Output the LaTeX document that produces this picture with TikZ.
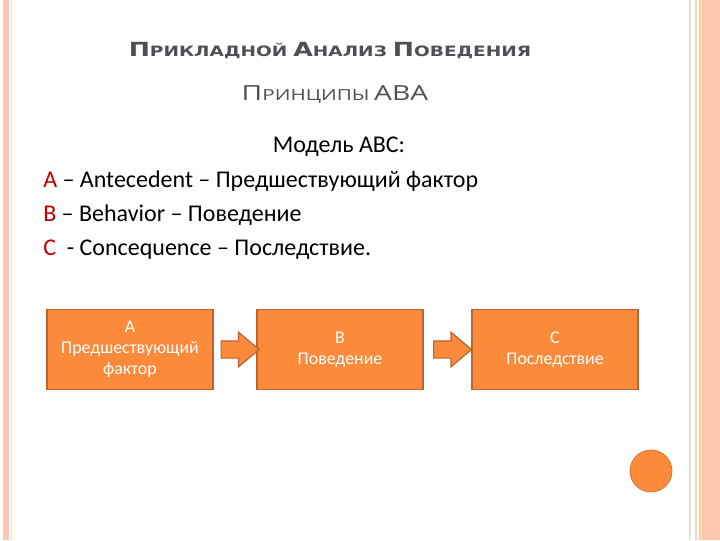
\documentclass[tikz,border=0pt]{standalone}
\usepackage{fontspec}
\setmainfont{Carlito}
\newfontfamily\headfont{DejaVu Sans}
\newfontfamily\subfont{Open Sans}
\usetikzlibrary{shapes.arrows,calc}
\definecolor{ochre}{HTML}{FB8A3A}
\definecolor{ochredark}{HTML}{B8652E}
\definecolor{peach}{HTML}{FFC6B0}
\definecolor{slate}{HTML}{4E5055}
\definecolor{abcred}{HTML}{C00000}
\newcommand{\hcap}[1]{{\fontsize{14.6pt}{17pt}\selectfont #1}}
\newcommand{\hsc}[1]{{\fontsize{10.7pt}{13pt}\selectfont #1}}
\newcommand{\scap}[1]{{\fontsize{15.6pt}{18pt}\selectfont #1}}
\newcommand{\ssc}[1]{{\fontsize{11.4pt}{14pt}\selectfont #1}}

\begin{document}
\begin{tikzpicture}[x=0.75pt,y=-0.75pt,stage/.style={draw=ochredark,line width=1.2pt,fill=ochre,text=white,minimum width=124.5pt,minimum height=60pt,align=center,font=\fontsize{13.4pt}{15.8pt}\selectfont},blockarrow/.style={single arrow,draw=ochredark,line width=0.9pt,fill=ochre,minimum height=28.5pt,inner xsep=0pt,inner ysep=6pt,single arrow head extend=6.5pt,single arrow tip angle=80},body/.style={font=\fontsize{18pt}{21pt}\selectfont,anchor=base west,inner sep=0pt},stripe/.style={line width=#1}]
\useasboundingbox (0,0) rectangle (720,540); \fill[white] (0,0) rectangle (720,540);
% side stripes
\fill[peach] (3,0) rectangle (9,540); \draw[stripe=0.75pt,color=red!15] (11.5,0)--(11.5,540); \draw[stripe=0.75pt,color=yellow!15] (14.5,0)--(14.5,540);
\draw[stripe=1.5pt,color=brown!25] (690,0)--(690,540); \draw[stripe=1.5pt,color=peach!80] (696,0)--(696,540); \draw[stripe=1.5pt,color=peach] (700,0)--(700,540);
\draw[stripe=1.2pt,color=orange!45] (702.5,0)--(702.5,540); \fill[peach] (703,0) rectangle (720,540);
\node[draw=ochre!85!black,line width=0.6pt,fill=ochre,circle,minimum size=31.5pt] (dot) at (651,471) {};
% headings
\node[anchor=base,text=slate,inner sep=0pt] (title) at (330,56) {\scalebox{1.3}[1]{\headfont\bfseries\hcap{П}\hsc{РИКЛАДНОЙ} \hcap{А}\hsc{НАЛИЗ} \hcap{П}\hsc{ОВЕДЕНИЯ}}};
\node[anchor=base,text=slate,inner sep=0pt] (subtitle) at (335,100) {\scalebox{1.36}[1]{\subfont\scap{П}\ssc{РИНЦИПЫ} \scap{АВА}}};
\node[body,anchor=base] (model) at (339,152) {Модель АВС:};
\node[body] (lineA) at (43,187) {\textcolor{abcred}{A} – Antecedent – Предшествующий фактор};
\node[body] (lineB) at (43,221) {\textcolor{abcred}{B} – Behavior – Поведение};
\node[body] (lineC) at (43,255) {\textcolor{abcred}{C}\ \ - Concequence – Последствие.};
% ABC chain
\node[stage] (boxA) at (130,349.5) {А\\Предшествующий\\фактор};
\node[stage] (boxB) at (340,349.5) {В\\Поведение};
\node[stage] (boxC) at (555,349.5) {С\\Последствие};
\node[blockarrow] (arrAB) at ($(boxA.east)!0.5!(boxB.west)$) {};
\node[blockarrow] (arrBC) at ($(boxB.east)!0.5!(boxC.west)$) {};
\end{tikzpicture}
\end{document}
